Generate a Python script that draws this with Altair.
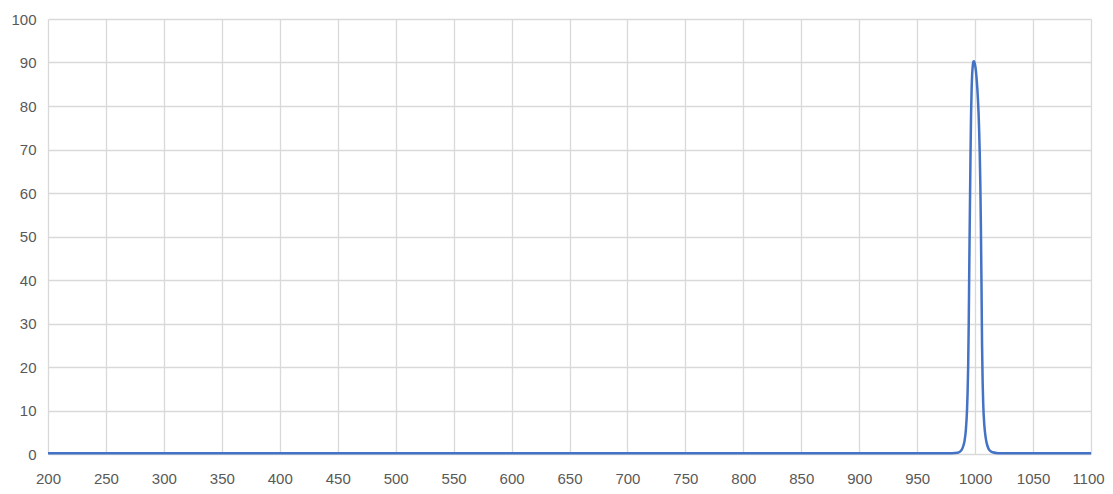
import altair as alt
import pandas as pd

# Wavelength (nm) and transmission (%)
wavelength = [200, 400, 600, 800, 950, 980, 985, 988, 990, 991, 992, 993, 993.5, 994, 994.5,
              995, 995.5, 996, 996.5, 997, 997.5, 998, 998.5, 999, 999.5, 1000, 1000.5,
              1001, 1001.5, 1002, 1002.5, 1003, 1003.5, 1004, 1004.5, 1005, 1005.5, 1006,
              1006.5, 1007, 1008, 1009, 1010, 1011, 1012, 1015, 1020, 1050, 1100]
transmission = [0.2, 0.2, 0.2, 0.2, 0.2, 0.2, 0.3, 0.8, 2.0, 3.2, 5.5, 10, 14, 20, 30,
                44, 56, 68, 78, 84, 87.5, 89.3, 90.2, 90.3, 90.0, 89.4, 88.5,
                87.2, 85.6, 83.6, 81.2, 78.2, 74.2, 69, 62, 52, 39, 25,
                16.5, 11.5, 6.5, 4.0, 2.5, 1.6, 1.0, 0.4, 0.2, 0.2, 0.2]

x_ticks = list(range(200, 1101, 50))
y_ticks = list(range(0, 101, 10))

df = pd.DataFrame({"wl": wavelength, "t": transmission})

chart = alt.Chart(df).mark_line(color="#4472C4", strokeWidth=2.5, interpolate="monotone").encode(
    x=alt.X("wl:Q", scale=alt.Scale(domain=[200, 1100], nice=False),
            axis=alt.Axis(values=x_ticks, format="d", title=None, domain=False, ticks=False,
                          labelPadding=17, gridColor="#d9d9d9", gridWidth=1.3,
                          labelFont="Liberation Sans", labelFontSize=15, labelColor="#595959",
                          labelFlush=False,
                          labelOffset={"expr": "datum.value == 1100 ? -3 : 0"})),
    y=alt.Y("t:Q", scale=alt.Scale(domain=[0, 100], nice=False),
            axis=alt.Axis(values=y_ticks, format="d", title=None, domain=False, ticks=False,
                          labelPadding=12, gridColor="#d9d9d9", gridWidth=1.3,
                          labelFont="Liberation Sans", labelFontSize=15, labelColor="#595959")),
).properties(
    width=1043, height=435,
    autosize=alt.AutoSizeParams(type="none"),
    padding={"left": 40, "top": 11, "right": 14, "bottom": 32},
).configure_view(stroke=None)

chart.save("out.html", embed_options={"renderer": "svg", "actions": False})
